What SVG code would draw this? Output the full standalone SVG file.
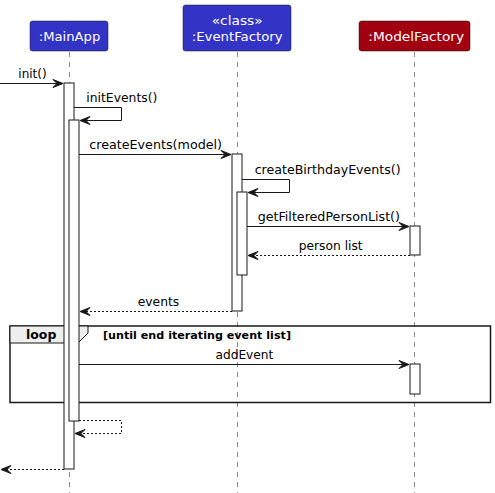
<svg xmlns="http://www.w3.org/2000/svg" width="495" height="493" viewBox="0 0 495 493">
<defs>
<style>
.t{font-family:"DejaVu Sans",sans-serif;font-size:13px;fill:#000}
.pt{font-family:"DejaVu Sans",sans-serif;font-size:13px;fill:#fff;text-anchor:middle}
.life{stroke:#181818;stroke-width:0.5;stroke-dasharray:5,5;fill:none}
.act{fill:#fff;stroke:#181818;stroke-width:1}
.msg{stroke:#181818;stroke-width:1;fill:none}
.ret{stroke:#181818;stroke-width:1;fill:none;stroke-dasharray:2,2}
.ah{fill:#181818;stroke:#181818;stroke-width:1}
</style>
</defs>
<rect width="495" height="493" fill="#fff"/>
<g id="lifelines">
<line class="life" x1="69.5" y1="52" x2="69.5" y2="493"/>
<line class="life" x1="237.5" y1="52" x2="237.5" y2="493"/>
<line class="life" x1="414.5" y1="52" x2="414.5" y2="493"/>
</g>
<g id="MainApp">
<rect x="30" y="21" width="78" height="30" rx="2.5" fill="#3333C6" stroke="#181818" stroke-width="0.5"/>
<text class="pt" x="69.5" y="41" textLength="61.5" lengthAdjust="spacingAndGlyphs">:MainApp</text>
</g>
<g id="EventFactory">
<rect x="183" y="5" width="108" height="46" rx="2.5" fill="#3333C6" stroke="#181818" stroke-width="0.5"/>
<text class="pt" x="237.2" y="24.5" textLength="51" lengthAdjust="spacingAndGlyphs">«class»</text>
<text class="pt" x="237.2" y="40.5" textLength="91" lengthAdjust="spacingAndGlyphs">:EventFactory</text>
</g>
<g id="ModelFactory">
<rect x="359" y="21" width="111" height="30" rx="2.5" fill="#A0000F" stroke="#181818" stroke-width="0.5"/>
<text class="pt" x="416.2" y="41" textLength="95.7" lengthAdjust="spacingAndGlyphs">:ModelFactory</text>
</g>
<g id="loop">
<rect x="10" y="326" width="480.5" height="76.5" fill="none" stroke="#181818" stroke-width="1.5"/>
<polygon points="10,326 88,326 88,333 78,343 10,343" fill="#EEEEEE" stroke="#181818" stroke-width="1"/>
<text x="26" y="339" textLength="30.3" lengthAdjust="spacingAndGlyphs" style="font-family:'DejaVu Sans',sans-serif;font-size:13px;font-weight:bold">loop</text>
<text x="103" y="339" textLength="188" lengthAdjust="spacingAndGlyphs" style="font-family:'DejaVu Sans',sans-serif;font-size:11px;font-weight:bold">[until end iterating event list]</text>
</g>
<g id="activations">
<rect class="act" x="64" y="83" width="10" height="386"/>
<rect class="act" x="69" y="120" width="10" height="301"/>
<rect class="act" x="232" y="154" width="10" height="157"/>
<rect class="act" x="237" y="192" width="10" height="83"/>
<rect class="act" x="410" y="226" width="10" height="29"/>
<rect class="act" x="410" y="364" width="10" height="30"/>
</g>
<g id="connectors">
<line class="msg" x1="0" y1="83.5" x2="63" y2="83.5"/>
<polygon class="ah" points="53,79.5 63,83.5 53,87.5 57,83.5"/>
<text class="t" x="18.3" y="78" textLength="28.4" lengthAdjust="spacingAndGlyphs">init()</text>

<polyline class="msg" points="74,107.5 121.5,107.5 121.5,120.5 80,120.5"/>
<polygon class="ah" points="90,116.5 80,120.5 90,124.5 86,120.5"/>
<text class="t" x="86.3" y="101.5" textLength="71" lengthAdjust="spacingAndGlyphs">initEvents()</text>

<line class="msg" x1="79" y1="154.5" x2="231" y2="154.5"/>
<polygon class="ah" points="221,150.5 231,154.5 221,158.5 225,154.5"/>
<text class="t" x="89.3" y="148.5" textLength="132.7" lengthAdjust="spacingAndGlyphs">createEvents(model)</text>

<polyline class="msg" points="242,179.5 289.5,179.5 289.5,192.5 248,192.5"/>
<polygon class="ah" points="258,188.5 248,192.5 258,196.5 254,192.5"/>
<text class="t" x="254.7" y="173.5" textLength="146" lengthAdjust="spacingAndGlyphs">createBirthdayEvents()</text>

<line class="msg" x1="247" y1="226.5" x2="409" y2="226.5"/>
<polygon class="ah" points="399,222.5 409,226.5 399,230.5 403,226.5"/>
<text class="t" x="257.7" y="220.5" textLength="142.3" lengthAdjust="spacingAndGlyphs">getFilteredPersonList()</text>

<line class="ret" x1="410" y1="255.5" x2="248" y2="255.5"/>
<polygon class="ah" points="258,251.5 248,255.5 258,259.5 254,255.5"/>
<text class="t" x="298.7" y="249.5" textLength="64" lengthAdjust="spacingAndGlyphs">person list</text>

<line class="ret" x1="232" y1="311.5" x2="80" y2="311.5"/>
<polygon class="ah" points="90,307.5 80,311.5 90,315.5 86,311.5"/>
<text class="t" x="137.7" y="305.5" textLength="41.6" lengthAdjust="spacingAndGlyphs">events</text>

<line class="msg" x1="79" y1="364.5" x2="409" y2="364.5"/>
<polygon class="ah" points="399,360.5 409,364.5 399,368.5 403,364.5"/>
<text class="t" x="215.5" y="358.5" textLength="57.8" lengthAdjust="spacingAndGlyphs">addEvent</text>

<polyline class="ret" points="79,420.5 121.5,420.5 121.5,433.5 75,433.5"/>
<polygon class="ah" points="85,429.5 75,433.5 85,437.5 81,433.5"/>

<line class="ret" x1="64" y1="469.5" x2="1" y2="469.5"/>
<polygon class="ah" points="11,465.5 1,469.5 11,473.5 7,469.5"/>
</g>
</svg>
